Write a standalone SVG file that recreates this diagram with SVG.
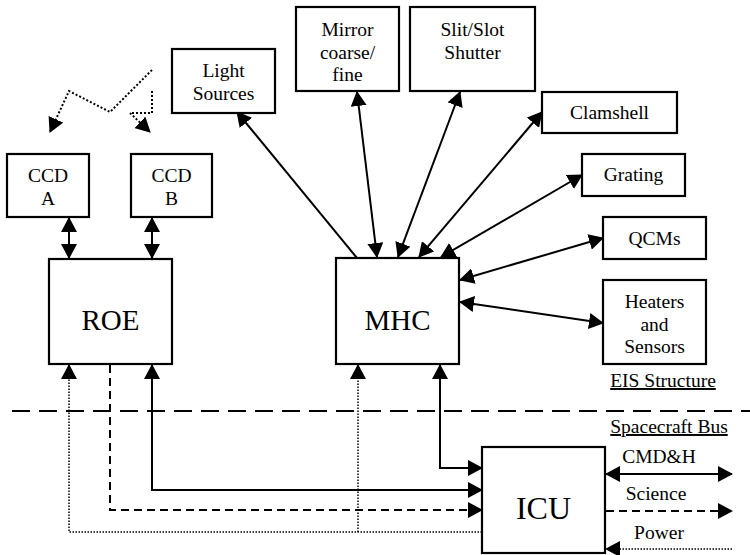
<svg xmlns="http://www.w3.org/2000/svg" width="750" height="555" viewBox="0 0 750 555" font-family="Liberation Serif, DejaVu Serif, serif">
<style>
.box{fill:#fff;stroke:#000;stroke-width:2.2}
text{font-size:19.5px;fill:#000;text-anchor:middle}
.big{font-size:29px}
.icu{font-size:32px}
.u{text-decoration:underline}
.c{fill:none;stroke:#000;stroke-width:2}
.dot{stroke-dasharray:2 2}
.dotf{stroke-width:1.5;stroke-dasharray:1.5 1.5}
.dash{stroke-dasharray:8 5}
.sep{stroke-dasharray:18 9}
.a{marker-end:url(#ah)}
.aa{marker-start:url(#ah);marker-end:url(#ah)}
</style>
<defs>
<marker id="ah" viewBox="0 0 15 16" refX="14" refY="8" markerWidth="15" markerHeight="16" markerUnits="userSpaceOnUse" orient="auto-start-reverse">
<path d="M0,0 L15,8 L0,16 z" fill="#000"/>
</marker>
</defs>
<rect width="750" height="555" fill="#fff"/>
<g id="connectors">
<line class="c sep" x1="12" y1="411" x2="750" y2="411"/>
<polyline class="c dot a" points="152,70 110,112 69,91 50,132"/>
<polyline class="c dot a" points="152,91 152,113 130,113 150,132"/>
<line class="c aa" x1="69" y1="218" x2="69" y2="258"/>
<line class="c aa" x1="152" y1="218" x2="152" y2="258"/>
<line class="c a" x1="357" y1="258" x2="237" y2="112"/>
<line class="c aa" x1="377" y1="257" x2="357" y2="92"/>
<line class="c aa" x1="398" y1="257" x2="460" y2="92"/>
<line class="c aa" x1="419" y1="257" x2="542" y2="112"/>
<line class="c aa" x1="441" y1="257" x2="582" y2="175"/>
<line class="c aa" x1="460" y1="280" x2="603" y2="238"/>
<line class="c aa" x1="460" y1="302" x2="603" y2="323"/>
<path class="c dotf a" d="M482,532 H69 V365"/>
<path class="c dotf a" d="M358,532 V365"/>
<path class="c dash a" d="M110,365 V510 H482"/>
<path class="c aa" d="M152,365 V490 H482"/>
<path class="c aa" d="M440,365 V468 H482"/>
<path class="c aa" d="M606,474 H732"/>
<path class="c dash a" d="M606,511 H732"/>
<path class="c dotf a" d="M732,549 H606"/>
</g>
<g id="ccdA"><rect class="box" x="7" y="154" width="82" height="63"/><text x="48" y="182">CCD</text><text x="48" y="205">A</text></g>
<g id="ccdB"><rect class="box" x="131" y="154" width="81" height="63"/><text x="171.5" y="182">CCD</text><text x="171.5" y="205">B</text></g>
<g id="roe"><rect class="box" x="49" y="259" width="123" height="105"/><text class="big" x="110.5" y="330">ROE</text></g>
<g id="mhc"><rect class="box" x="336" y="258" width="123" height="106"/><text class="big" x="397.5" y="330">MHC</text></g>
<g id="light"><rect class="box" x="172" y="49" width="103" height="64"/><text x="223.5" y="77">Light</text><text x="223.5" y="100">Sources</text></g>
<g id="mirror"><rect class="box" x="296" y="7" width="103" height="84"/><text x="347.5" y="36">Mirror</text><text x="347.5" y="58.5">coarse/</text><text x="347.5" y="81">fine</text></g>
<g id="slit"><rect class="box" x="410" y="7" width="125" height="84"/><text x="472.5" y="36">Slit/Slot</text><text x="472.5" y="59">Shutter</text></g>
<g id="clamshell"><rect class="box" x="542" y="92" width="135" height="41"/><text x="609.5" y="119">Clamshell</text></g>
<g id="grating"><rect class="box" x="582" y="154" width="103" height="42"/><text x="633.5" y="181">Grating</text></g>
<g id="qcms"><rect class="box" x="603" y="217" width="103" height="42"/><text x="654.5" y="245">QCMs</text></g>
<g id="heaters"><rect class="box" x="603" y="280" width="103" height="84"/><text x="654.5" y="308">Heaters</text><text x="654.5" y="331">and</text><text x="654.5" y="353">Sensors</text></g>
<g id="icu"><rect class="box" x="482" y="447" width="123" height="106"/><text class="icu" x="543.5" y="519">ICU</text></g>
<g id="labels">
<text class="u" x="663" y="387">EIS Structure</text>
<text class="u" x="669" y="433">Spacecraft Bus</text>
<text x="659" y="463">CMD&amp;H</text>
<text x="656" y="500">Science</text>
<text x="659" y="539">Power</text>
</g>
</svg>
